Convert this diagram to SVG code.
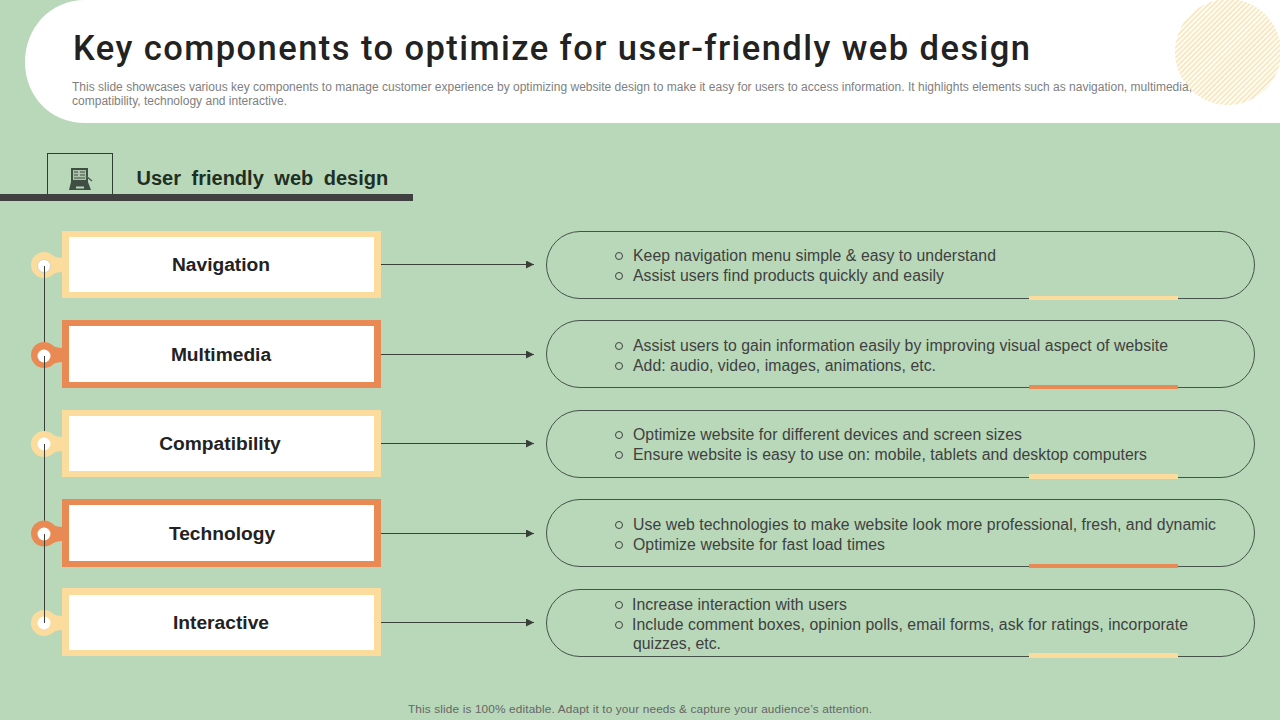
<svg xmlns="http://www.w3.org/2000/svg" width="1280" height="720" viewBox="0 0 1280 720">
<style>
text{font-family:"Liberation Sans",Arial,sans-serif}
.lab{font-size:19.2px;font-weight:700;fill:#222;text-anchor:middle}
.b{font-size:15.8px;fill:#404040}
.sub{font-size:12px;fill:#808080}
.conn{stroke:#3a3f3a;stroke-width:1;fill:none}
.pill{fill:none;stroke:#46524a;stroke-width:1}
.y{fill:#fbdc9c}.o{fill:#e98a54}
.w{fill:#fff}
.ring{fill:#fff;stroke:#d9d2c4;stroke-width:1}
.bul{fill:none;stroke:#404040;stroke-width:1}
</style>
<defs>
<pattern id="h" width="3.600" height="3.600" patternUnits="userSpaceOnUse" patternTransform="rotate(-45)"><rect width="3.600" height="3.600" fill="#fffdf6"/><rect width="3.600" height="1.700" fill="#f8e6bd"/></pattern>
<marker id="a" markerWidth="9" markerHeight="8" refX="8" refY="4" orient="auto" markerUnits="userSpaceOnUse"><path d="M0 0L8 4L0 8z" fill="#3a3f3a"/></marker>
</defs>
<rect width="1280" height="720" fill="#b8d8b9"/>
<g id="header">
<path d="M1280 0H85C50 0 25 28 25 62C25 96 50 123 85 123H1280z" fill="#fff"/>
<circle cx="1228" cy="52" r="53" fill="url(#h)"/>
<text x="73" y="60" font-size="34.500" style="font-family:Roboto,sans-serif;font-weight:500" fill="#222" textLength="957" lengthAdjust="spacing">Key components to optimize for user-friendly web design</text>
<text class="sub" x="72" y="91" textLength="1120" lengthAdjust="spacing">This slide showcases various key components to manage customer experience by optimizing website design to make it easy for users to access information. It highlights elements such as navigation, multimedia,</text>
<text class="sub" x="72" y="105" textLength="215" lengthAdjust="spacing">compatibility, technology and interactive.</text>
</g>
<g id="section">
<rect x="47.500" y="153.500" width="65" height="42" fill="none" stroke="#2f3e32" stroke-width="1"/>
<rect x="0" y="194" width="413" height="7" fill="#404040"/>
<g id="icon" fill="#3f4f43">
<rect x="71" y="168" width="17" height="15"/>
<path d="M71 182H88L91 190H69z"/>
<rect x="73" y="170" width="13" height="10" fill="#a9c4ab"/>
<path d="M74 172H78M80 172H85M74 175H78M80 175H85M74 178H85" stroke="#3f4f43" stroke-width="1"/>
<rect x="76" y="186.500" width="8" height="2" fill="#b8d8b9"/>
<path d="M86 176L92 181" stroke="#4f5f53" stroke-width="1.500"/>
</g>
<text x="136.500" y="185" font-size="20" font-weight="700" fill="#1f2f24" word-spacing="5">User friendly web design</text>
</g>
<g id="connectors">
<path class="conn" d="M44.500 266V623"/>
<path class="conn" marker-end="url(#a)" d="M381 264.500H534"/>
<path class="conn" marker-end="url(#a)" d="M381 354.500H534"/>
<path class="conn" marker-end="url(#a)" d="M381 443.500H534"/>
<path class="conn" marker-end="url(#a)" d="M381 533.500H534"/>
<path class="conn" marker-end="url(#a)" d="M381 622.500H534"/>
</g>
<g id="n1">
<rect class="y" x="62" y="231" width="319" height="67"/>
<circle class="y" cx="44" cy="265" r="13"/><path class="y" d="M50 254Q55 258 63 258V272Q55 272 50 276z"/>
<rect class="w" x="69" y="237" width="305" height="55"/>
<circle class="ring" cx="44" cy="266" r="6.500"/><path class="conn" d="M44.500 266V279"/>
<text class="lab" x="221" y="271">Navigation</text>
</g>
<g id="n2">
<rect class="o" x="62" y="320" width="319" height="68"/>
<circle class="o" cx="44" cy="355" r="13"/><path class="o" d="M50 344Q55 348 63 348V362Q55 362 50 366z"/>
<rect class="w" x="69" y="326" width="305" height="56"/>
<circle class="w" cx="44" cy="356" r="6.500"/><path class="conn" d="M44.500 356V369"/>
<text class="lab" x="221" y="361">Multimedia</text>
</g>
<g id="n3">
<rect class="y" x="62" y="410" width="319" height="67"/>
<circle class="y" cx="44" cy="444" r="13"/><path class="y" d="M50 433Q55 437 63 437V451Q55 451 50 455z"/>
<rect class="w" x="69" y="416" width="305" height="55"/>
<circle class="w" cx="44" cy="444" r="6.500"/><path class="conn" d="M44.500 444V457"/>
<text class="lab" x="220" y="450">Compatibility</text>
</g>
<g id="n4">
<rect class="o" x="62" y="499" width="319" height="68"/>
<circle class="o" cx="44" cy="533.500" r="13"/><path class="o" d="M50 523Q55 527 63 527V541Q55 541 50 545z"/>
<rect class="w" x="69" y="505" width="305" height="56"/>
<circle class="w" cx="44" cy="534" r="6.500"/><path class="conn" d="M44.500 534V547"/>
<text class="lab" x="222" y="540">Technology</text>
</g>
<g id="n5">
<rect class="y" x="62" y="588" width="319" height="68"/>
<circle class="y" cx="44" cy="623" r="13"/><path class="y" d="M50 612Q55 616 63 616V630Q55 630 50 634z"/>
<rect class="w" x="69" y="595" width="305" height="55"/>
<circle class="w" cx="44" cy="623" r="6.500"/><path class="conn" d="M44.500 606V623"/>
<text class="lab" x="221" y="629">Interactive</text>
</g>
<g id="p1">
<rect class="pill" x="546.500" y="231.500" width="708" height="67" rx="33.500"/>
<rect class="y" x="1029" y="296" width="149" height="4"/>
<circle class="bul" cx="619" cy="256" r="3.500"/><circle class="bul" cx="619" cy="276" r="3.500"/>
<text class="b" x="633" y="261" textLength="363">Keep navigation menu simple &amp; easy to understand</text>
<text class="b" x="633" y="281" textLength="311">Assist users find products quickly and easily</text>
</g>
<g id="p2">
<rect class="pill" x="546.500" y="320.500" width="708" height="67" rx="33.500"/>
<rect class="o" x="1029" y="385" width="149" height="4"/>
<circle class="bul" cx="619" cy="346" r="3.500"/><circle class="bul" cx="619" cy="366" r="3.500"/>
<text class="b" x="633" y="351" textLength="535">Assist users to gain information easily by improving visual aspect of website</text>
<text class="b" x="633" y="371" textLength="303">Add: audio, video, images, animations, etc.</text>
</g>
<g id="p3">
<rect class="pill" x="546.500" y="410.500" width="708" height="67" rx="33.500"/>
<rect class="y" x="1029" y="474" width="149" height="5"/>
<circle class="bul" cx="619" cy="435" r="3.500"/><circle class="bul" cx="619" cy="455" r="3.500"/>
<text class="b" x="633" y="440" textLength="389">Optimize website for different devices and screen sizes</text>
<text class="b" x="633" y="460" textLength="514">Ensure website is easy to use on: mobile, tablets and desktop computers</text>
</g>
<g id="p4">
<rect class="pill" x="546.500" y="499.500" width="708" height="67" rx="33.500"/>
<rect class="o" x="1029" y="564" width="149" height="4"/>
<circle class="bul" cx="619" cy="525" r="3.500"/><circle class="bul" cx="619" cy="545" r="3.500"/>
<text class="b" x="633" y="530" textLength="583">Use web technologies to make website look more professional, fresh, and dynamic</text>
<text class="b" x="633" y="550" textLength="252">Optimize website for fast load times</text>
</g>
<g id="p5">
<rect class="pill" x="546.500" y="589.500" width="708" height="67" rx="33.500"/>
<rect class="y" x="1029" y="653" width="149" height="5"/>
<circle class="bul" cx="619" cy="605" r="3.500"/><circle class="bul" cx="619" cy="625" r="3.500"/>
<text class="b" x="632" y="610" textLength="215">Increase interaction with users</text>
<text class="b" x="632" y="630" textLength="556">Include comment boxes, opinion polls, email forms, ask for ratings, incorporate</text>
<text class="b" x="633" y="649" textLength="88">quizzes, etc.</text>
</g>
<text id="footer" x="408" y="713" font-size="11.800" fill="#666" textLength="464">This slide is 100% editable. Adapt it to your needs &amp; capture your audience’s attention.</text>
</svg>
